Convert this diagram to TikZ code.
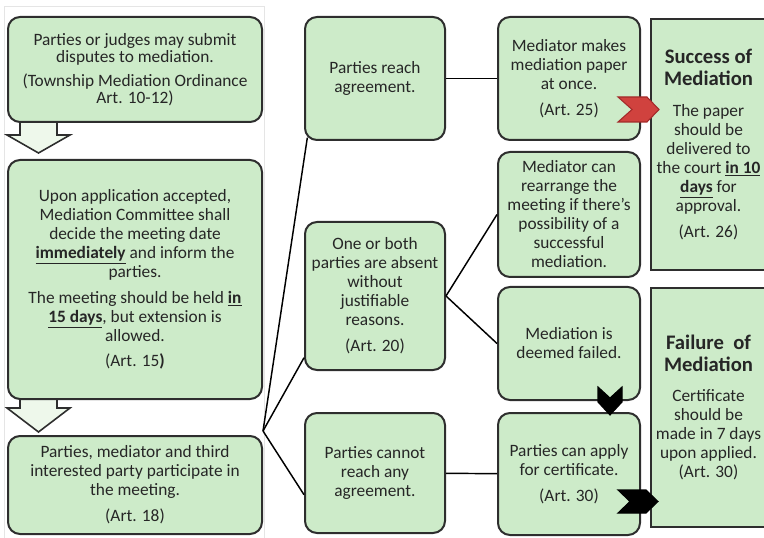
\documentclass[tikz,border=0pt]{standalone}
\usepackage{fontspec}
\setmainfont{Carlito}
\usepackage{xcolor}
\usetikzlibrary{positioning}

\definecolor{cardfill}{HTML}{CDEBC9}
\definecolor{cardline}{HTML}{2E2E2E}
\definecolor{inkgray}{HTML}{262626}
\definecolor{arrowfill}{HTML}{EEF8EB}
\definecolor{redfill}{HTML}{D0423E}
\definecolor{redline}{HTML}{A32A2A}

\newcommand{\headline}[1]{{\fontsize{15.5}{17}\selectfont\bfseries #1}}
\newcommand{\keyterm}[1]{\underline{\textbf{#1}}}

\begin{document}
\begin{tikzpicture}[x=0.75pt, y=-0.75pt,
  card/.style={rectangle, rounded corners=9pt, draw=cardline, fill=cardfill,
               line width=1.5pt, align=center, inner sep=0pt, text=inkgray,
               font=\fontsize{13}{14.25}\selectfont},
  panel/.style={card, sharp corners},
  link/.style={draw=black, line width=1.1pt},
  hollow/.style={draw=cardline, fill=arrowfill, line width=1.2pt, line join=miter},
  chev/.style={line width=0.8pt, line join=miter}
]
\useasboundingbox (0,0) rectangle (764,538);
\clip (0,0) rectangle (764,538);
\draw[black!10, line width=0.6pt] (4,6) rectangle (264,545);

% block arrows of the left column
\draw[hollow] (20,116) -- (57,116) -- (57,135) -- (70,135) -- (38.5,153)
  -- (7,135) -- (20,135) -- cycle;
\draw[hollow] (20,392) -- (57,392) -- (57,408) -- (70,408) -- (38.5,432)
  -- (7,408) -- (20,408) -- cycle;

% left column
\node[card, minimum width=190.5pt, minimum height=78.75pt,
      font=\fontsize{13}{12.75}\selectfont] (submit) at (135,69.5)
  {Parties or judges may submit\\ disputes to mediation.\\[5pt]
   (Township Mediation Ordinance\\ Art. 10-12)};
\node[card, minimum width=190.5pt, minimum height=179.25pt, below=27pt of submit] (accept)
  {Upon application accepted,\\ Mediation Committee shall\\ decide the meeting date\\
   \keyterm{immediately} and inform the\\ parties.\\[5pt]
   The meeting should be held \keyterm{in}\\ \keyterm{15 days}, but extension is\\
   allowed.\\[5pt] (Art. 15\textbf{)}};
\node[card, minimum width=190.5pt, minimum height=73.5pt, below=26.25pt of accept] (meet)
  {Parties, mediator and third\\ interested party participate in\\ the meeting.\\[5pt]
   (Art. 18)};

% middle column
\node[card, minimum width=105pt, minimum height=92.25pt] (agree) at (375,78.5)
  {Parties reach\\ agreement.};
\node[card, minimum width=105pt, minimum height=111pt] (absent) at (375,296)
  {One or both\\ parties are absent\\ without\\ justifiable\\ reasons.\\[5pt] (Art. 20)};
\node[card, minimum width=105pt, minimum height=90pt] (noagree) at (375,473)
  {Parties cannot\\ reach any\\ agreement.};

% right column
\node[card, minimum width=106.5pt, minimum height=92.25pt] (paper) at (569,78.5)
  {Mediator makes\\ mediation paper\\ at once.\\[5pt] (Art. 25)};
\node[card, minimum width=106.5pt, minimum height=93.75pt] (rearrange) at (569,214.5)
  {Mediator can\\ rearrange the\\ meeting if there’s\\ possibility of a\\ successful\\ mediation.};
\node[card, minimum width=106.5pt, minimum height=84.75pt] (failed) at (569,343.5)
  {Mediation is\\ deemed failed.};
\node[card, minimum width=106.5pt, minimum height=91.5pt] (apply) at (569,474)
  {Parties can apply\\ for certificate.\\[5pt] (Art. 30)};

% outcome panels
\node[panel, minimum width=86.25pt, minimum height=188.25pt] (success) at (708.5,144.5)
  {\headline{Success of}\\[2pt] \headline{Mediation}\\[9pt]
   The paper\\ should be\\ delivered to\\ the court \keyterm{in 10}\\
   \keyterm{days} for\\ approval.\\[5pt] (Art. 26)};
\node[panel, minimum width=86.25pt, minimum height=179.25pt] (failure) at (708.5,407.5)
  {\headline{Failure\ \ of}\\[2pt] \headline{Mediation}\\[8pt]
   Certificate\\ should be\\ made in 7 days\\ upon applied.\\ (Art. 30)};

% connectors
\coordinate (hub) at ([yshift=3pt]meet.north east);
\draw[link] (hub) -- ([shift={(2.5pt,2.5pt)}]agree.south west);
\draw[link] (hub) -- (absent.221);
\draw[link] (hub) -- (noagree.197);
\draw[link] (agree) -- (paper);
\draw[link] (absent.east) -- (rearrange.west);
\draw[link] (absent.east) -- (failed.west);
\draw[link] (noagree) -- (apply);

% chevron marks
\draw[chev, fill=redfill, draw=redline] (618,97) -- (647,97) -- (659,109.5)
  -- (647,122) -- (618,122) -- (632,109.5) -- cycle;
\draw[chev, fill=black] (598,387) -- (610,398) -- (622,387) -- (622,402)
  -- (610,415) -- (598,402) -- cycle;
\draw[chev, fill=black] (618,490) -- (646,490) -- (658,501.5)
  -- (646,513) -- (618,513) -- (630,501.5) -- cycle;
\end{tikzpicture}
\end{document}
